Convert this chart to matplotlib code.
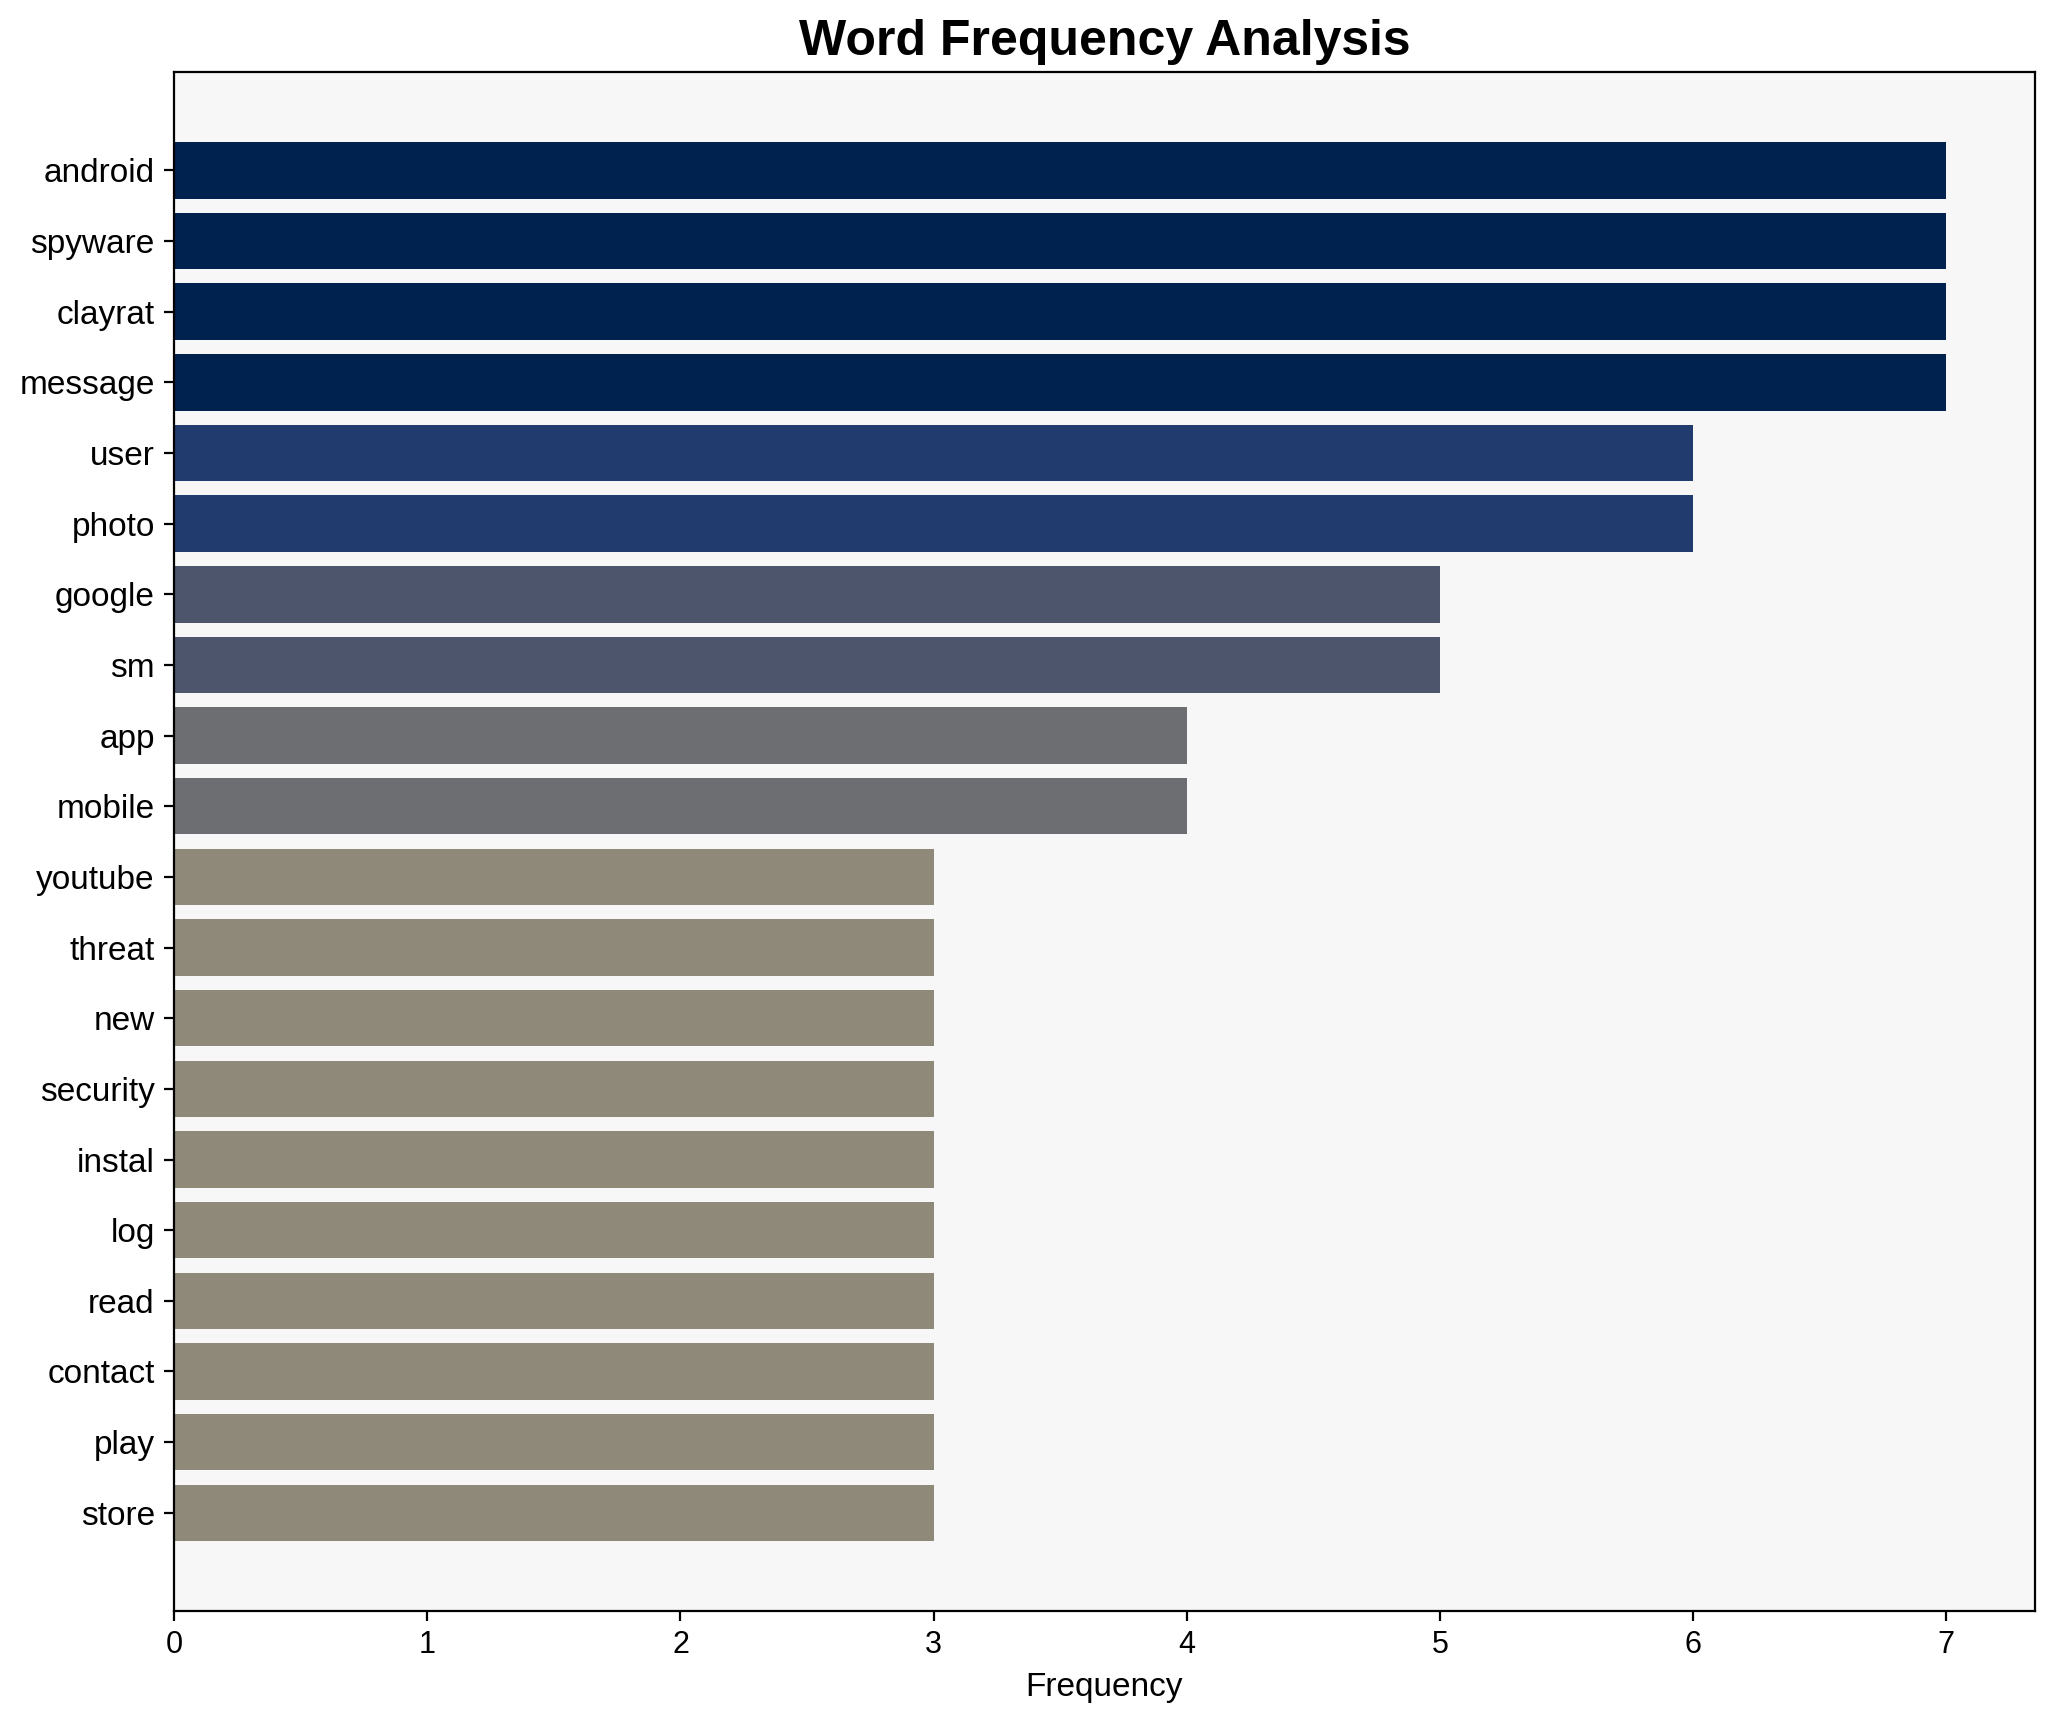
import matplotlib
matplotlib.use("Agg")
import matplotlib.pyplot as plt
import numpy as np

plt.rcParams["font.family"] = ["Liberation Sans", "DejaVu Sans"]

# palavras e frequencias
words = ["android", "spyware", "clayrat", "message", "user", "photo", "google", "sm",
         "app", "mobile", "youtube", "threat", "new", "security", "instal", "log",
         "read", "contact", "play", "store"]
freqs = [7, 7, 7, 7, 6, 6, 5, 5, 4, 4, 3, 3, 3, 3, 3, 3, 3, 3, 3, 3]

fig, ax = plt.subplots(figsize=(10.27, 8.61), dpi=200)
ax.set_facecolor("#f7f7f7")

vals = np.array(freqs)
colors = plt.cm.cividis(1 - vals / vals.max())
y = np.arange(len(words))
ax.barh(y, vals, color=colors, height=0.8)

ax.set_yticks(y)
ax.set_yticklabels(words, fontsize=12)
ax.invert_yaxis()
ax.tick_params(axis="x", labelsize=11)
ax.set_xlabel("Frequency", fontsize=12)
ax.set_title("Word Frequency Analysis", fontsize=18, fontweight="bold")

plt.tight_layout(pad=0.7)
plt.savefig("out.png", dpi=200)
